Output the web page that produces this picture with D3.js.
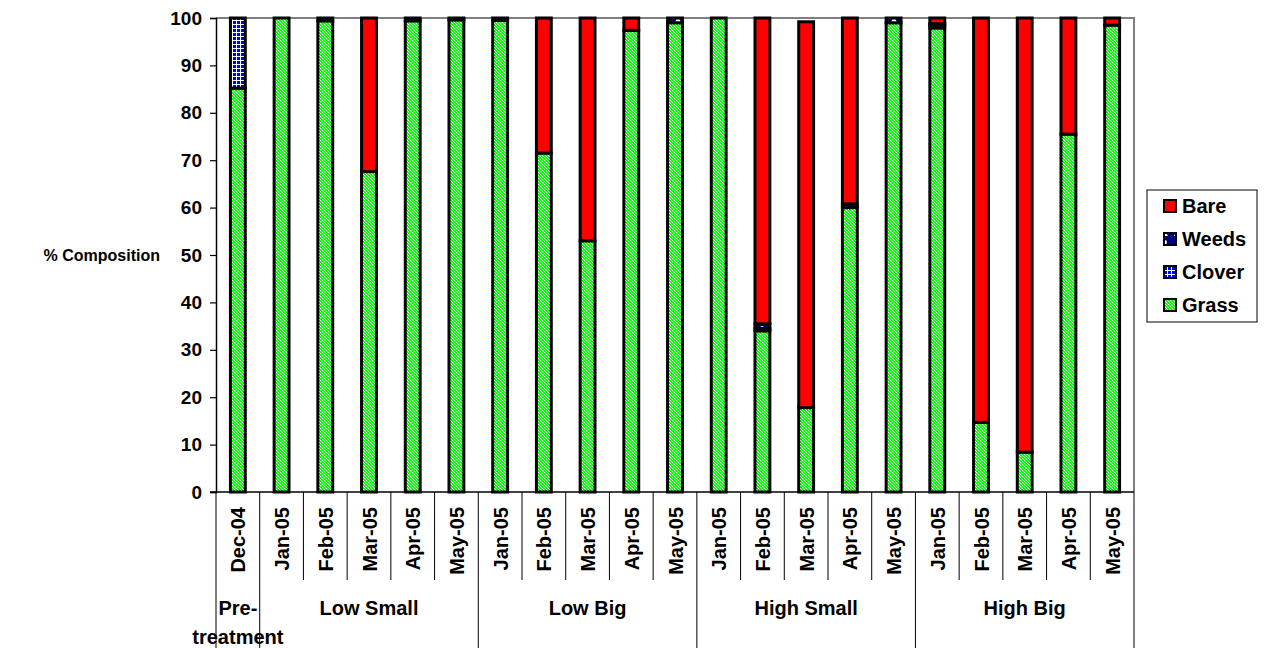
<!DOCTYPE html>
<html>
<head>
<meta charset="utf-8">
<script src="https://cdn.jsdelivr.net/npm/d3@7"></script>
<style>
  html, body { margin: 0; padding: 0; background: #fff; }
  svg { display: block; font-family: "Liberation Sans", Arial, sans-serif; font-weight: bold; }
</style>
</head>
<body>
<svg id="chart" width="1264" height="648"></svg>
<script>
// Sampling months, one per bar
const months = ["Dec-04",
  "Jan-05", "Feb-05", "Mar-05", "Apr-05", "May-05",
  "Jan-05", "Feb-05", "Mar-05", "Apr-05", "May-05",
  "Jan-05", "Feb-05", "Mar-05", "Apr-05", "May-05",
  "Jan-05", "Feb-05", "Mar-05", "Apr-05", "May-05"];

// Treatment groups and how many bars each spans
const groups = ["Pre-\ntreatment", "Low Small", "Low Big", "High Small", "High Big"];
const groupSizes = [1, 5, 5, 5, 5];

// % composition per bar
const grass  = [85.2, 100, 99.4, 67.6, 99.4, 99.6, 99.5, 71.5, 53.0, 97.4, 99.0, 100, 34.0, 17.8, 60.0, 99.0, 97.9, 14.7, 8.4, 75.5, 98.5];
const clover = [14.8, 0, 0, 0, 0, 0, 0, 0, 0, 0, 0, 0, 0.5, 0, 0, 0, 0.6, 0, 0, 0, 0];
const weeds  = [0, 0, 0.6, 0, 0.6, 0.4, 0.5, 0, 0, 0, 1.0, 0, 1.0, 0, 0.8, 1.0, 0.3, 0, 0, 0, 0];
const bare   = [0, 0, 0, 32.4, 0, 0, 0, 28.5, 47.0, 2.6, 0, 0, 64.5, 81.4, 39.2, 0, 1.2, 85.3, 91.6, 24.5, 1.5];

const yTicks = [0, 10, 20, 30, 40, 50, 60, 70, 80, 90, 100];

const seriesKeys = ["Grass", "Clover", "Weeds", "Bare"];
const seriesData = { Grass: grass, Clover: clover, Weeds: weeds, Bare: bare };
const legendOrder = ["Bare", "Weeds", "Clover", "Grass"];

const svg = d3.select("#chart");
const defs = svg.append("defs");

// Fill patterns, built from whole pixels so they stay crisp
function pixelPattern(id, size, bg, fg, isOn) {
  const p = defs.append("pattern").attr("id", id).attr("patternUnits", "userSpaceOnUse")
    .attr("width", size).attr("height", size);
  p.append("rect").attr("width", size).attr("height", size).attr("fill", bg);
  const cells = [];
  for (let r = 0; r < size; r++) for (let c = 0; c < size; c++) if (isOn(r, c)) cells.push([r, c]);
  p.selectAll("rect.px").data(cells).join("rect").attr("class", "px")
    .attr("x", d => d[1]).attr("y", d => d[0]).attr("width", 1).attr("height", 1)
    .attr("fill", fg).attr("shape-rendering", "crispEdges");
}
// fine downward diagonal
pixelPattern("pGrass", 3, "#00ff00", "#ffffff", (r, c) => ((c - r + 6) % 3) === 0);
// small grid
pixelPattern("pClover", 4, "#0000ff", "#ffffff", (r, c) => r === 0 || c === 0);

const pWeeds = defs.append("pattern").attr("id", "pWeeds").attr("patternUnits", "userSpaceOnUse")
  .attr("width", 12).attr("height", 12);
pWeeds.append("rect").attr("width", 12).attr("height", 12).attr("fill", "#000080");
pWeeds.append("path").attr("d", "M6,2 C8,2 8.5,5 7,6.5 L9,10 L3,10 L5,6.5 C3.5,5 4,2 6,2 Z").attr("fill", "#ffffff");

const fills = { Grass: "url(#pGrass)", Clover: "url(#pClover)", Weeds: "url(#pWeeds)", Bare: "#ff0000" };

// Plot area
const plotL = 216, plotR = 1134, plotT = 18, plotB = 492;

const x = d3.scaleBand().domain(d3.range(months.length)).range([plotL, plotR])
  .paddingInner(0.66).paddingOuter(0.33);
const y = d3.scaleLinear().domain([0, 100]).range([plotB, plotT]);

// Plot area frame (top and right edges)
svg.append("path").attr("d", `M${plotL},${plotT} H${plotR} V${plotB}`)
  .attr("fill", "none").attr("stroke", "#808080").attr("stroke-width", 2);

// Stacked bars
const rows = months.map((m, i) => {
  const r = { idx: i };
  seriesKeys.forEach(k => r[k] = seriesData[k][i]);
  return r;
});
const stack = d3.stack().keys(seriesKeys)(rows);

stack.forEach(layer => {
  svg.append("g").selectAll("rect")
    .data(layer.filter(d => d[1] - d[0] > 0))
    .join("rect")
    .attr("x", d => x(d.data.idx))
    .attr("y", d => y(d[1]))
    .attr("width", x.bandwidth())
    .attr("height", d => y(d[0]) - y(d[1]))
    .attr("fill", fills[layer.key])
    .attr("stroke", "#000")
    .attr("stroke-width", 3);
});

// Y axis
const yAxis = svg.append("g").attr("transform", `translate(${plotL},0)`)
  .call(d3.axisLeft(y).tickValues(yTicks).tickSize(6).tickPadding(8));
yAxis.select(".domain").attr("stroke", "#000").attr("stroke-width", 1.5);
yAxis.selectAll(".tick line").attr("stroke", "#000").attr("stroke-width", 1.2);
yAxis.selectAll(".tick text").attr("font-size", 19).attr("font-weight", "bold")
  .attr("font-family", "'Liberation Sans', Arial, sans-serif").attr("fill", "#000");

svg.append("text").attr("x", 160).attr("y", 261).attr("text-anchor", "end")
  .attr("font-size", 16).text("% Composition");

// X axis baseline
svg.append("line").attr("x1", plotL - 6).attr("x2", plotR).attr("y1", plotB).attr("y2", plotB)
  .attr("stroke", "#000").attr("stroke-width", 1.5);

// Category separators and labels
const step = x.step();
const edges = d3.range(months.length + 1).map(i => plotL + i * step);
const groupEdges = [0];
groupSizes.forEach(s => groupEdges.push(groupEdges[groupEdges.length - 1] + s));

svg.append("g").selectAll("line").data(edges.map((e, i) => ({ e, i })))
  .join("line")
  .attr("x1", d => d.e).attr("x2", d => d.e)
  .attr("y1", plotB)
  .attr("y2", d => groupEdges.includes(d.i) ? 648 : 580)
  .attr("stroke", "#000").attr("stroke-width", 1);

svg.append("g").selectAll("text").data(months.map((m, i) => ({ m, i })))
  .join("text")
  .attr("transform", d => `translate(${x(d.i) + x.bandwidth() / 2 + 7.5},507) rotate(-90)`)
  .attr("text-anchor", "end")
  .attr("font-size", 20)
  .text(d => d.m);

// Group labels
groups.forEach((g, gi) => {
  const cx = (edges[groupEdges[gi]] + edges[groupEdges[gi + 1]]) / 2;
  const lines = g.split("\n");
  const t = svg.append("text").attr("text-anchor", "middle").attr("font-size", 20);
  lines.forEach((ln, li) => {
    t.append("tspan").attr("x", cx).attr("y", 615 + li * 29).text(ln);
  });
});

// Legend
const lg = svg.append("g").attr("transform", "translate(1147,190)");
lg.append("rect").attr("width", 110).attr("height", 132)
  .attr("fill", "#fff").attr("stroke", "#000").attr("stroke-width", 1);
legendOrder.forEach((k, i) => {
  const yy = 16 + i * 33;
  lg.append("rect").attr("x", 17).attr("y", yy - 6).attr("width", 12).attr("height", 12)
    .attr("fill", fills[k]).attr("stroke", "#000").attr("stroke-width", 2);
  lg.append("text").attr("x", 35).attr("y", yy + 7).attr("font-size", 20).text(k);
});
</script>
</body>
</html>
